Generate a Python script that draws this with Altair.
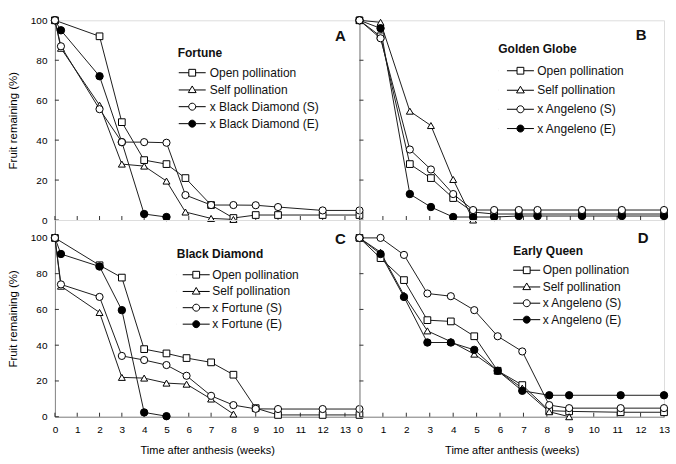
import altair as alt
import pandas as pd

FONT = "Liberation Sans"

# ---------------- data (weeks after anthesis, % fruit remaining) ----------------
names_A = ["Open pollination", "Self pollination", "x Black Diamond (S)", "x Black Diamond (E)"]
a_open_w = [0, 2, 3, 4, 5, 5.85, 7, 8, 9, 10, 12, 13.65]
a_open_v = [100, 92, 49, 30, 28, 21, 7.5, 1, 2.5, 2.5, 2.5, 2.5]
a_self_w = [0, 0.27, 2, 3, 4, 5, 5.85, 7, 8]
a_self_v = [100, 86, 57.5, 28, 27, 19.5, 4, 0.8, 0.3]
a_s_w = [0, 0.27, 2, 3, 4, 5, 5.85, 7, 8, 9, 10, 12, 13.65]
a_s_v = [100, 87, 55.5, 39, 39, 38.7, 12.5, 7.5, 7.5, 7.4, 6.5, 4.8, 4.8]
a_e_w = [0, 0.27, 2, 3, 4, 5]
a_e_v = [100, 95, 72, 39, 3, 1.5]

names_B = ["Open pollination", "Self pollination", "x Angeleno (S)", "x Angeleno (E)"]
b_w = [0, 0.9, 2.15, 3.05, 4.0, 4.85, 5.75, 6.8, 7.6, 9.5, 11.2, 13]
b_open_v = [100, 92, 28, 21, 11, 4, 3, 3, 3, 3, 3, 3]
b_self_w = [0, 0.9, 2.15, 3.05, 4.0, 4.85]
b_self_v = [100, 99, 54.5, 47.3, 20.3, 0]
b_s_v = [100, 91, 35.3, 25.3, 13, 5, 5, 5, 5, 5, 5, 5]
b_e_v = [100, 96, 13, 6.5, 1.5, 1.5, 1.5, 2, 2, 2, 2, 2]

names_C = ["Open pollination", "Self pollination", "x Fortune (S)", "x Fortune (E)"]
c_open_w = [0, 2, 3, 4, 5, 5.9, 7, 8, 9, 10, 12, 13.65]
c_open_v = [100, 84.7, 77.8, 37.8, 35.4, 32.8, 30.4, 23.5, 4.8, 1, 1, 1]
c_self_w = [0, 0.27, 2, 3, 4, 5, 5.9, 7, 8]
c_self_v = [100, 73, 58.3, 22, 21.6, 18.8, 18.2, 9.9, 1.5]
c_s_w = [0, 0.27, 2, 3, 4, 5, 5.9, 7, 8, 9, 10, 12, 13.65]
c_s_v = [100, 74, 67, 34, 31.7, 28.9, 22.9, 11.7, 6.5, 4.4, 4.3, 4.3, 4.3]
c_e_w = [0, 0.27, 2, 3, 4, 5]
c_e_v = [100, 91, 84, 59.6, 2.4, 0.3]

names_D = ["Open pollination", "Self pollination", "x Angeleno (S)", "x Angeleno (E)"]
d_w = [0, 0.9, 1.9, 2.9, 3.9, 4.9, 5.9, 6.95, 8.1, 8.95, 11.15, 13]
d_open_v = [100, 88.7, 76.4, 54, 53.3, 45, 25.7, 17.7, 3.4, 3, 2.5, 2.5]
d_self_w = [0, 0.9, 1.9, 2.9, 3.9, 4.9, 5.9, 6.95, 8.1, 8.95]
d_self_v = [100, 92, 68, 48, 42, 35, 25.7, 16, 2.8, 0]
d_s_v = [100, 100, 90.5, 68.9, 67.4, 59.6, 45, 36.5, 6.5, 4.8, 4.8, 4.8]
d_e_v = [100, 91, 67, 41.5, 41.5, 37.4, 25.7, 14.5, 12, 12, 12, 12]

x_ticks = list(range(14))
y_ticks = [0, 20, 40, 60, 80, 100]

FILLS = ["white", "white", "white", "black"]
SHAPES = ["square", "triangle-up", "circle", "circle"]
SIZES = [45, 55, 45, 40]


def leg_paths(left_px):
    """Legend symbols (marker with a line through it), 1 unit = 5 px at symbolSize 100.
    The symbol centre sits 6 px from the entry origin; a tiny anchor keeps bounds at 0."""
    u = (left_px + 13.5 - 6) / 5.0
    a = "M-1.2,0h0.01"
    f = lambda t: f"{t:.3f}"
    sq = (f"{a}M{f(u-2.7)},0H{f(u-0.68)}M{f(u+0.68)},0H{f(u+2.7)}"
          f"M{f(u-0.68)},-0.68H{f(u+0.68)}V0.68H{f(u-0.68)}Z")
    tri = (f"{a}M{f(u-2.7)},0.05H{f(u-0.45)}M{f(u+0.45)},0.05H{f(u+2.7)}"
           f"M{f(u)},-0.75L{f(u+0.78)},0.58L{f(u-0.78)},0.58Z")
    cir = (f"{a}M{f(u-2.7)},0H{f(u-0.7)}M{f(u+0.7)},0H{f(u+2.7)}"
           f"M{f(u-0.7)},0A0.7,0.7 0 1,0 {f(u+0.7)},0A0.7,0.7 0 1,0 {f(u-0.7)},0Z")
    return [sq, tri, cir, cir]


def frame(names, series):
    rows = []
    for name, (ws, vs) in zip(names, series):
        for w, v in zip(ws, vs):
            rows.append({"w": w, "v": v, "s": name})
    return pd.DataFrame(rows)


def panel(df, names, title, letter, xmax, ymax, W, H, show_x, show_y, leg, let_pos):
    xs = alt.Scale(domain=[0, xmax], nice=False, zero=False)
    ys = alt.Scale(domain=[0, ymax], nice=False)
    xa = alt.Axis(values=x_ticks, labels=show_x, ticks=False, tickSize=0, grid=False,
                  labelPadding=8, titlePadding=10, labelFlush=False, titleFontWeight="normal",
                  title="Time after anthesis (weeks)" if show_x else None)
    ya = alt.Axis(values=y_ticks, labels=show_y, ticks=False, tickSize=0, grid=False,
                  labelPadding=8, titlePadding=12, titleFontWeight="normal", titleFontSize=11.5,
                  title="Fruit remaining (%)" if show_y else None)
    X = alt.X("w:Q", scale=xs, axis=xa)
    Y = alt.Y("v:Q", scale=ys, axis=ya)

    lines = alt.Chart(df).mark_line(color="#1e1e1e", strokeWidth=1).encode(
        x=X, y=Y, detail="s:N")
    pts = alt.Chart(df).mark_point(filled=True, opacity=1, stroke="black", strokeWidth=1).encode(
        x=X, y=Y,
        shape=alt.Shape("s:N", scale=alt.Scale(domain=names, range=SHAPES), legend=None),
        fill=alt.Fill("s:N", scale=alt.Scale(domain=names, range=FILLS), legend=None),
        size=alt.Size("s:N", scale=alt.Scale(domain=names, range=SIZES), legend=None),
        order=alt.Order("s:N"),
    )
    lg = alt.Legend(orient="none", legendX=leg["x"], legendY=leg["y"], title=title,
                    titleFont=FONT, titleFontSize=12, titleFontWeight="bold", titleColor="#111",
                    titlePadding=leg["tp"], labelFont=FONT, labelFontSize=12, labelColor="#111",
                    labelOffset=leg["lo"], symbolOffset=0, symbolSize=100,
                    symbolStrokeColor="black", symbolStrokeWidth=1, symbolOpacity=1,
                    rowPadding=leg["rp"], padding=0)
    legend_layer = alt.Chart(df).transform_filter("false").mark_point(
        filled=True, opacity=1, strokeWidth=1, size=100).encode(
        shape=alt.Shape("s:N", scale=alt.Scale(domain=names, range=leg_paths(leg["L"])), legend=lg),
        fill=alt.Fill("s:N", scale=alt.Scale(domain=names, range=FILLS), legend=lg),
        stroke=alt.Stroke("s:N", scale=alt.Scale(domain=names, range=["black"] * 4), legend=lg),
    )
    xt = alt.Chart(pd.DataFrame({"w": x_ticks})).mark_rule(color="#333", strokeWidth=1).encode(
        x=X, y=alt.value(H - 4), y2=alt.value(H))
    yt = alt.Chart(pd.DataFrame({"v": y_ticks})).mark_rule(color="#333", strokeWidth=1).encode(
        y=Y, x=alt.value(0), x2=alt.value(4))
    lab = alt.Chart(pd.DataFrame({"t": [letter]})).mark_text(
        font=FONT, fontSize=15, fontWeight="bold", color="#111").encode(
        text="t:N", x=alt.value(let_pos[0]), y=alt.value(let_pos[1]))
    return alt.layer(xt, yt, lines, pts, legend_layer, lab).resolve_scale(
        shape="independent", fill="independent", size="independent", stroke="independent"
    ).properties(width=W, height=H)


dfA = frame(names_A, [(a_open_w, a_open_v), (a_self_w, a_self_v), (a_s_w, a_s_v), (a_e_w, a_e_v)])
dfB = frame(names_B, [(b_w, b_open_v), (b_self_w, b_self_v), (b_w, b_s_v), (b_w, b_e_v)])
dfC = frame(names_C, [(c_open_w, c_open_v), (c_self_w, c_self_v), (c_s_w, c_s_v), (c_e_w, c_e_v)])
dfD = frame(names_D, [(d_w, d_open_v), (d_self_w, d_self_v), (d_w, d_s_v), (d_w, d_e_v)])

pA = panel(dfA, names_A, "Fortune", "A", 13.65, 100, 305, 200, False, True,
           {"x": 123, "y": 28, "tp": 6.5, "rp": 5, "L": 1, "lo": 20}, (286, 15.5))
pB = panel(dfB, names_B, "Golden Globe", "B", 13, 100, 305, 200, False, False,
           {"x": 139, "y": 24, "tp": 8.5, "rp": 7.3, "L": 8.7, "lo": 27}, (282, 14.5))
pC = panel(dfC, names_C, "Black Diamond", "C", 13.65, 110, 305, 197, True, True,
           {"x": 122, "y": 29.3, "tp": 7.5, "rp": 4.5, "L": 6, "lo": 23.5}, (286, 19.5))
pD = panel(dfD, names_D, "Early Queen", "D", 13, 110, 305, 197, True, False,
           {"x": 154, "y": 26.5, "tp": 5.8, "rp": 4.5, "L": 0, "lo": 17.5}, (284, 18.5))

chart = alt.concat(pA, pB, pC, pD, columns=2, spacing=0, bounds="flush").resolve_scale(
    x="independent", y="independent", shape="independent", fill="independent",
    size="independent", stroke="independent"
).resolve_legend(shape="independent", fill="independent", stroke="independent").properties(
    padding={"left": 6, "top": 13, "right": 5, "bottom": 5}
).configure_view(stroke="#888", strokeWidth=1).configure_axis(
    domainColor="#333", domainWidth=1, labelFont=FONT, labelFontSize=11, labelColor="#222",
    titleFont=FONT, titleFontSize=12, titleFontWeight="normal", titleColor="#222"
).configure(background="white")

chart.save("out.html", embed_options={"renderer": "svg", "actions": False})
